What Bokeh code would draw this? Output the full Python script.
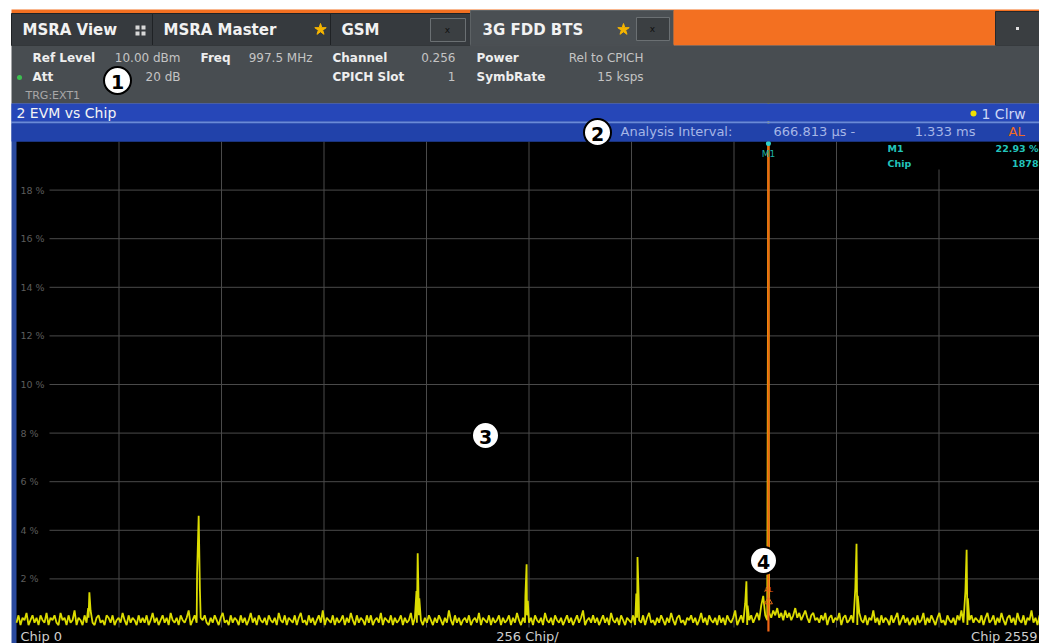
from bokeh.plotting import figure
from bokeh.models import Range1d
from bokeh.embed import file_html
from bokeh.resources import INLINE
from bokeh.core.properties import value

# ------------------------------------------------------------------ data
NOISE_STEP = 5  # chips between noise samples
NOISE_EVM = [
    0.2, 0.5, 0.1, 0.4, 0.3, 0.6, 0.1, 0.3, 0.5, 0.2, 0.4, 0.1, 0.5, 0.3, 0.2, 0.6,
    0.1, 0.4, 0.3, 0.5, 0.2, 0.1, 0.6, 0.3, 0.4, 0.1, 0.5, 0.2, 0.3, 0.7, 0.1, 0.4,
    0.3, 0.1, 0.5, 0.2, 0.4, 0.6, 0.2, 0.1, 0.4, 0.5, 0.2, 0.3, 0.1, 0.5, 0.4, 0.2,
    0.5, 0.1, 0.3, 0.4, 0.2, 0.6, 0.3, 0.1, 0.5, 0.2, 0.4, 0.3, 0.1, 0.5, 0.2, 0.4,
    0.2, 0.5, 0.1, 0.3, 0.6, 0.2, 0.4, 0.1, 0.3, 0.5, 0.2, 0.4, 0.1, 0.6, 0.3, 0.2,
    0.4, 0.1, 0.5, 0.3, 0.2, 0.4, 0.7, 0.1, 0.3, 0.5, 0.2, 0.1, 0.4, 0.3, 0.5, 0.2,
    0.1, 0.4, 0.2, 0.5, 0.3, 0.1, 0.4, 0.6, 0.2, 0.3, 0.1, 0.5, 0.2, 0.4, 0.3, 0.1,
    0.5, 0.2, 0.4, 0.1, 0.3, 0.6, 0.2, 0.4, 0.1, 0.5, 0.3, 0.2, 0.4, 0.1, 0.5, 0.3,
    0.2, 0.4, 0.1, 0.6, 0.3, 0.2, 0.5, 0.1, 0.4, 0.3, 0.2, 0.5, 0.1, 0.4, 0.6, 0.2,
    0.3, 0.1, 0.5, 0.2, 0.4, 0.1, 0.3, 0.5, 0.2, 0.7, 0.1, 0.4, 0.3, 0.2, 0.5, 0.1,
    0.4, 0.2, 0.3, 0.5, 0.1, 0.4, 0.2, 0.6, 0.3, 0.1, 0.5, 0.2, 0.4, 0.3, 0.1, 0.5,
    0.2, 0.5, 0.1, 0.3, 0.4, 0.2, 0.6, 0.1, 0.4, 0.3, 0.2, 0.5, 0.1, 0.4, 0.2, 0.3,
    0.5, 0.1, 0.4, 0.2, 0.3, 0.6, 0.1, 0.4, 0.2, 0.5, 0.3, 0.1, 0.4, 0.2, 0.5, 0.3,
    0.1, 0.4, 0.2, 0.5, 0.3, 0.1, 0.4, 0.2, 0.7, 0.3, 0.1, 0.5, 0.2, 0.4, 0.1, 0.3,
    0.4, 0.2, 0.5, 0.1, 0.3, 0.4, 0.2, 0.6, 0.1, 0.4, 0.3, 0.2, 0.5, 0.1, 0.4, 0.2,
    0.3, 0.5, 0.1, 0.4, 0.2, 0.3, 0.5, 0.1, 0.4, 0.2, 0.6, 0.3, 0.1, 0.4, 0.2, 0.5,
    0.2, 0.4, 0.1, 0.5, 0.3, 0.2, 0.4, 0.1, 0.6, 0.3, 0.2, 0.4, 0.1, 0.5, 0.3, 0.2,
    0.4, 0.1, 0.3, 0.5, 0.2, 0.4, 0.1, 0.3, 0.5, 0.2, 0.4, 0.7, 0.1, 0.3, 0.4, 0.2,
    0.5, 0.2, 0.4, 0.1, 0.3, 0.5, 0.2, 0.4, 0.1, 0.6, 0.3, 0.2, 0.4, 0.1, 0.5, 0.3,
    0.1, 0.4, 0.3, 0.2, 0.5, 0.1, 0.4, 0.3, 0.2, 0.5, 0.1, 0.4, 0.6, 0.2, 0.3, 0.1,
    0.4, 0.2, 0.5, 0.3, 0.1, 0.4, 0.2, 0.6, 0.3, 0.1, 0.4, 0.5, 0.2, 0.3, 0.1, 0.4,
    0.3, 0.5, 0.2, 0.4, 0.1, 0.3, 0.6, 0.2, 0.4, 0.1, 0.5, 0.3, 0.2, 0.4, 0.1, 0.5,
    0.2, 0.4, 0.1, 0.5, 0.3, 0.2, 0.4, 0.7, 0.1, 0.3, 0.5, 0.2, 0.4, 0.1, 0.3, 0.5,
    0.2, 0.4, 0.6, 0.3, 0.9, 1.3, 0.5, 0.3, 0.6, 0.4, 0.7, 0.5, 0.8, 0.4, 0.6, 0.3,
    0.7, 0.4, 0.6, 0.3, 0.5, 0.8, 0.4, 0.6, 0.3, 0.5, 0.7, 0.4, 0.2, 0.5, 0.6, 0.3,
    0.4, 0.2, 0.5, 0.3, 0.6, 0.1, 0.4, 0.5, 0.2, 0.4, 0.3, 0.6, 0.1, 0.4, 0.5, 0.2,
    0.3, 0.5, 0.2, 0.4, 0.1, 0.6, 0.3, 0.2, 0.5, 0.1, 0.4, 0.3, 0.7, 0.2, 0.4, 0.1,
    0.5, 0.2, 0.4, 0.3, 0.1, 0.5, 0.2, 0.4, 0.6, 0.1, 0.3, 0.5, 0.2, 0.4, 0.1, 0.3,
    0.4, 0.1, 0.5, 0.2, 0.3, 0.6, 0.1, 0.4, 0.2, 0.5, 0.3, 0.1, 0.4, 0.6, 0.2, 0.3,
    0.1, 0.5, 0.3, 0.2, 0.4, 0.1, 0.5, 0.3, 0.7, 0.2, 0.4, 0.1, 0.3, 0.5, 0.2, 0.4,
    0.3, 0.2, 0.5, 0.1, 0.4, 0.6, 0.2, 0.3, 0.5, 0.1, 0.4, 0.2, 0.6, 0.3, 0.1, 0.4,
    0.5, 0.2, 0.4, 0.1, 0.6, 0.3, 0.2, 0.5, 0.1, 0.4, 0.3, 0.7, 0.2, 0.4, 0.1, 0.5,
]
SPIKE_CHIPS = [179, 182, 185,
               451, 455, 458,
               999, 1002, 1006,
               1271, 1274, 1277,
               1548, 1551, 1554,
               1820, 1823, 1826,
               1876, 1878, 1879,
               2095, 2098, 2101,
               2370, 2373, 2376]
SPIKE_EVM = [0.8, 1.45, 0.7,
             2.2, 4.6, 1.6,
             1.5, 3.05, 1.2,
             1.3, 2.6, 1.1,
             1.4, 2.9, 1.2,
             1.0, 1.9, 0.9,
             6.6, 22.93, 5.0,
             1.6, 3.45, 1.3,
             1.5, 3.2, 1.2]

GRID_CHIPS = [256, 512, 768, 1024, 1280, 1536, 1792, 2048, 2304]
GRID_EVM = [2, 4, 6, 8, 10, 12, 14, 16, 18]
Y_TICK_LABELS = ["2 %", "4 %", "6 %", "8 %", "10 %", "12 %", "14 %", "16 %", "18 %"]
X_LABELS = ["Chip 0", "256 Chip/", "Chip 2559"]

MARKER_CHIP = 1878
MARKER_EVM = 22.93

CHIP_SPAN = 2560   # 10 divisions x 256 chips
EVM_SPAN = 20      # 0 .. 20 %

# ------------------------------------------------------------------ layout (page pixels)
X0, Y0 = 0, 0
W, H = 1039, 643
CH_L, CH_R = 16, 1041      # chart left / right edge
CH_T, CH_B = 141, 627      # chart top / bottom edge

FONT = value("DejaVu Sans")

p = figure(width=W, height=H, output_backend="svg", toolbar_location=None,
           x_range=Range1d(X0, X0 + W), y_range=Range1d(Y0 + H, Y0),
           x_axis_location=None, y_axis_location=None, min_border=0)
p.grid.grid_line_color = None
p.outline_line_color = None
p.background_fill_color = "white"
p.border_fill_color = "white"

cpp = CHIP_SPAN / (CH_R - CH_L)
epp = EVM_SPAN / (CH_B - CH_T)
p.extra_x_ranges = {"chip": Range1d((X0 - CH_L) * cpp, (X0 + W - CH_L) * cpp)}
p.extra_y_ranges = {"evm": Range1d((CH_B - (Y0 + H)) * epp, (CH_B - Y0) * epp)}

# build trace
noise_chips = [i * NOISE_STEP for i in range(len(NOISE_EVM))]
trace = dict(zip(noise_chips, NOISE_EVM))
trace.update(zip(SPIKE_CHIPS, SPIKE_EVM))
chips = sorted(trace)
evm = [trace[c] for c in chips]

# ------------------------------------------------------------------ chart area
p.quad(left=[11], right=[X0 + W], top=[103], bottom=[Y0 + H], fill_color="#2a4a9e", line_color=None)
p.quad(left=[CH_L], right=[X0 + W], top=[CH_T], bottom=[Y0 + H], fill_color="black", line_color=None)

n = len(GRID_CHIPS)
p.segment(x0=GRID_CHIPS, x1=GRID_CHIPS, y0=[CH_T] * n, y1=[CH_B] * n,
          x_range_name="chip", line_color="#4a4a4a", line_width=1)
m = len(GRID_EVM)
p.segment(x0=[49] * m, x1=[X0 + W] * m, y0=GRID_EVM, y1=GRID_EVM,
          y_range_name="evm", line_color="#4a4a4a", line_width=1)
p.text(x=[20] * m, y=GRID_EVM, text=Y_TICK_LABELS, y_range_name="evm",
       text_font=FONT, text_font_size="9.5px", text_color="#5c5c5c",
       text_align="left", text_baseline="middle")

p.line(x=chips, y=evm, x_range_name="chip", y_range_name="evm",
       line_color="#dcdc00", line_width=1.8)

# marker / AL line
p.segment(x0=[MARKER_CHIP], x1=[MARKER_CHIP], y0=[CH_T], y1=[631],
          x_range_name="chip", line_color="#f06414", line_width=2.2)
p.scatter(x=[MARKER_CHIP], y=[143], x_range_name="chip", marker="circle", size=5,
          fill_color="#30d0c8", line_color=None)
p.text(x=[MARKER_CHIP], y=[153], text=["M1"], x_range_name="chip",
       text_font=FONT, text_font_size="9px", text_color="#1fb3a8",
       text_align="center", text_baseline="middle")
p.text(x=[MARKER_CHIP], y=[589], text=["AL"], x_range_name="chip",
       text_font=FONT, text_font_size="7px", text_color="#ee6a1a",
       text_align="center", text_baseline="middle")
p.scatter(x=[MARKER_CHIP], y=[601], x_range_name="chip", marker="triangle", size=8,
          fill_color=None, line_color="#ee6a1a", line_width=1)

# marker info box
p.quad(left=[880], right=[X0 + W], top=[CH_T], bottom=[169], fill_color="black", line_color=None)
p.text(x=[887, 887], y=[148, 163], text=["M1", "Chip"], text_font=FONT, text_font_size="9.5px",
       text_font_style="bold", text_color="#22c4bc", text_align="left", text_baseline="middle")
p.text(x=[1038, 1038], y=[148, 163], text=["%.2f %%" % MARKER_EVM, str(MARKER_CHIP)], text_font=FONT,
       text_font_size="9.5px", text_font_style="bold", text_color="#22c4bc",
       text_align="right", text_baseline="middle")

# bottom labels
p.text(x=[20, 527, 1037], y=[636, 636, 636], text=X_LABELS, text_font=FONT, text_font_size="13px",
       text_color="#cfcfcf", text_align=["left", "center", "right"], text_baseline="middle")

# ------------------------------------------------------------------ header
# tab strip
p.quad(left=[11], right=[X0 + W], top=[9], bottom=[13], fill_color="#f37021", line_color=None)
p.quad(left=[11], right=[X0 + W], top=[13], bottom=[45], fill_color="#2b2f32", line_color=None)
tab_l = [11, 152, 330]
tab_r = [152, 330, 470]
p.quad(left=tab_l, right=tab_r, top=[13] * 3, bottom=[45] * 3, fill_color="#363a3e",
       line_color="#1f2225", line_width=1)
p.quad(left=[470], right=[673], top=[10], bottom=[46], fill_color="#4a4f53",
       line_color="#5d6265", line_width=1)
p.quad(left=[673], right=[995], top=[10], bottom=[45], fill_color="#f37021", line_color=None)
p.quad(left=[995], right=[X0 + W], top=[11], bottom=[45], fill_color="#3a3e41",
       line_color="#25282b", line_width=1)
p.scatter(x=[1017], y=[28], marker="square", size=3, fill_color="#e0e0e0", line_color=None)

p.text(x=[22, 163, 341, 482], y=[29, 29, 29, 29], text=["MSRA View", "MSRA Master", "GSM", "3G FDD BTS"],
       text_font=FONT, text_font_size="15px", text_font_style="bold", text_color="#f2f2f2",
       text_align="left", text_baseline="middle")
p.scatter(x=[137, 143, 137, 143], y=[27, 27, 33, 33], marker="square", size=4,
          fill_color="#d8d8d8", line_color=None)
p.scatter(x=[320, 623], y=[29, 29], marker="star", size=12, fill_color="#f5b400", line_color="#f5b400")
p.quad(left=[430, 636], right=[465, 669], top=[18, 17], bottom=[41, 40], fill_color="#3b3f42",
       line_color="#6b7073", line_width=1)
p.text(x=[447, 652], y=[29, 28], text=["x", "x"], text_font=FONT, text_font_size="9px",
       text_color="#101010", text_align="center", text_baseline="middle")

# settings panel
p.quad(left=[11], right=[X0 + W], top=[45], bottom=[103], fill_color="#484d51", line_color=None)
p.quad(left=[470], right=[673], top=[44], bottom=[46], fill_color="#4a4f53", line_color=None)
p.text(x=[32, 200, 332, 476, 32, 332, 476], y=[57, 57, 57, 57, 76, 76, 76],
       text=["Ref Level", "Freq", "Channel", "Power", "Att", "CPICH Slot", "SymbRate"],
       text_font=FONT, text_font_size="12px", text_font_style="bold", text_color="#eeeeee",
       text_align="left", text_baseline="middle")
p.text(x=[180, 312, 455, 643, 180, 455, 643], y=[57, 57, 57, 57, 76, 76, 76],
       text=["10.00 dBm", "997.5 MHz", "0.256", "Rel to CPICH", "20 dB", "1", "15 ksps"],
       text_font=FONT, text_font_size="12px", text_color="#c4c4c4",
       text_align="right", text_baseline="middle")
p.text(x=[25], y=[95], text=["TRG:EXT1"], text_font=FONT, text_font_size="11px",
       text_color="#a8a8a8", text_align="left", text_baseline="middle")
p.scatter(x=[19], y=[77], marker="circle", size=5, fill_color="#3cc050", line_color=None)

# blue title bars
p.quad(left=[11], right=[X0 + W], top=[103], bottom=[121], fill_color="#2647b8", line_color=None)
p.quad(left=[11], right=[X0 + W], top=[121], bottom=[123], fill_color="#6a8ad8", line_color=None)
p.quad(left=[11], right=[X0 + W], top=[123], bottom=[CH_T], fill_color="#2142aa", line_color=None)
p.text(x=[16], y=[112], text=["2 EVM vs Chip"], text_font=FONT, text_font_size="14px",
       text_color="#f4f4f4", text_align="left", text_baseline="middle")
p.scatter(x=[973], y=[113], marker="circle", size=6, fill_color="#f0e000", line_color=None)
p.text(x=[981], y=[113], text=["1 Clrw"], text_font=FONT, text_font_size="14px",
       text_color="#cdd6f6", text_align="left", text_baseline="middle")
p.text(x=[620, 773], y=[131, 131], text=["Analysis Interval:", "666.813 µs -"], text_font=FONT,
       text_font_size="13px", text_color="#a6b6e6", text_align="left", text_baseline="middle")
p.text(x=[975], y=[131], text=["1.333 ms"], text_font=FONT, text_font_size="13px",
       text_color="#a6b6e6", text_align="right", text_baseline="middle")
p.text(x=[1008], y=[131], text=["AL"], text_font=FONT, text_font_size="13px",
       text_color="#f06a20", text_align="left", text_baseline="middle")

# callouts
p.scatter(x=[117, 597, 485, 763], y=[80, 132, 435, 560], marker="circle", size=27,
          fill_color="white", line_color="black", line_width=2)
p.text(x=[117, 597, 485, 763], y=[81, 133, 436, 561], text=["1", "2", "3", "4"], text_font=FONT,
       text_font_size="19px", text_font_style="bold", text_color="black",
       text_align="center", text_baseline="middle")

open("out.html", "w").write(file_html(p, INLINE))
